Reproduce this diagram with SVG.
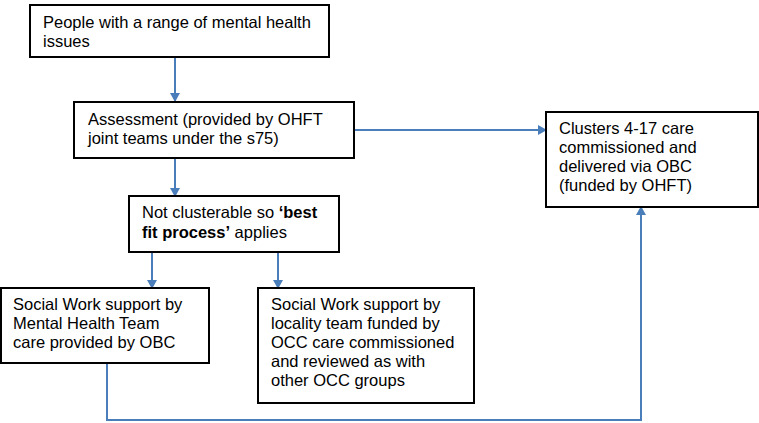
<svg xmlns="http://www.w3.org/2000/svg" width="759" height="423" viewBox="0 0 759 423">
<style>
.box{fill:#fff;stroke:#000;stroke-width:2}
.t{font-family:"Liberation Sans",Arial,sans-serif;font-size:16.5px;fill:#000}
.b{font-weight:bold}
.c{fill:none;stroke:#4a7ebb;stroke-width:2}
</style>
<defs>
<marker id="ah" markerWidth="10" markerHeight="10" refX="8" refY="5" orient="auto" markerUnits="userSpaceOnUse">
<path d="M0,0 L9,5 L0,10 Z" fill="#4a7ebb"/>
</marker>
</defs>
<rect width="759" height="423" fill="#fff"/>
<g id="connectors">
<path class="c" d="M175,57 V101" marker-end="url(#ah)"/>
<path class="c" d="M354,130 H546" marker-end="url(#ah)"/>
<path class="c" d="M175,158 V196" marker-end="url(#ah)"/>
<path class="c" d="M152,252 V288" marker-end="url(#ah)"/>
<path class="c" d="M278,252 V288" marker-end="url(#ah)"/>
<path class="c" d="M107,363 V420 H641 V207" marker-end="url(#ah)"/>
</g>
<g id="n1">
<rect class="box" x="30" y="5" width="299" height="52"/>
<text class="t" x="43" y="28">People with a range of mental health</text>
<text class="t" x="43" y="47">issues</text>
</g>
<g id="n2">
<rect class="box" x="74" y="102" width="280" height="56"/>
<text class="t" x="88" y="125">Assessment (provided by OHFT</text>
<text class="t" x="88" y="144">joint teams under the s75)</text>
</g>
<g id="n3">
<rect class="box" x="546" y="112" width="212" height="95"/>
<text class="t" x="559" y="134">Clusters 4-17 care</text>
<text class="t" x="559" y="153">commissioned and</text>
<text class="t" x="559" y="172">delivered via OBC</text>
<text class="t" x="559" y="191">(funded by OHFT)</text>
</g>
<g id="n4">
<rect class="box" x="129" y="196" width="210" height="56"/>
<text class="t" x="142" y="218">Not clusterable so <tspan class="b">‘best</tspan></text>
<text class="t" x="142" y="238"><tspan class="b">fit process’</tspan> applies</text>
</g>
<g id="n5">
<rect class="box" x="1" y="288" width="208" height="75"/>
<text class="t" x="13" y="310">Social Work support by</text>
<text class="t" x="13" y="329">Mental Health Team</text>
<text class="t" x="13" y="348">care provided by OBC</text>
</g>
<g id="n6">
<rect class="box" x="258" y="288" width="216" height="115"/>
<text class="t" x="271" y="310">Social Work support by</text>
<text class="t" x="271" y="329">locality team funded by</text>
<text class="t" x="271" y="348">OCC care commissioned</text>
<text class="t" x="271" y="367">and reviewed as with</text>
<text class="t" x="271" y="386">other OCC groups</text>
</g>
</svg>
